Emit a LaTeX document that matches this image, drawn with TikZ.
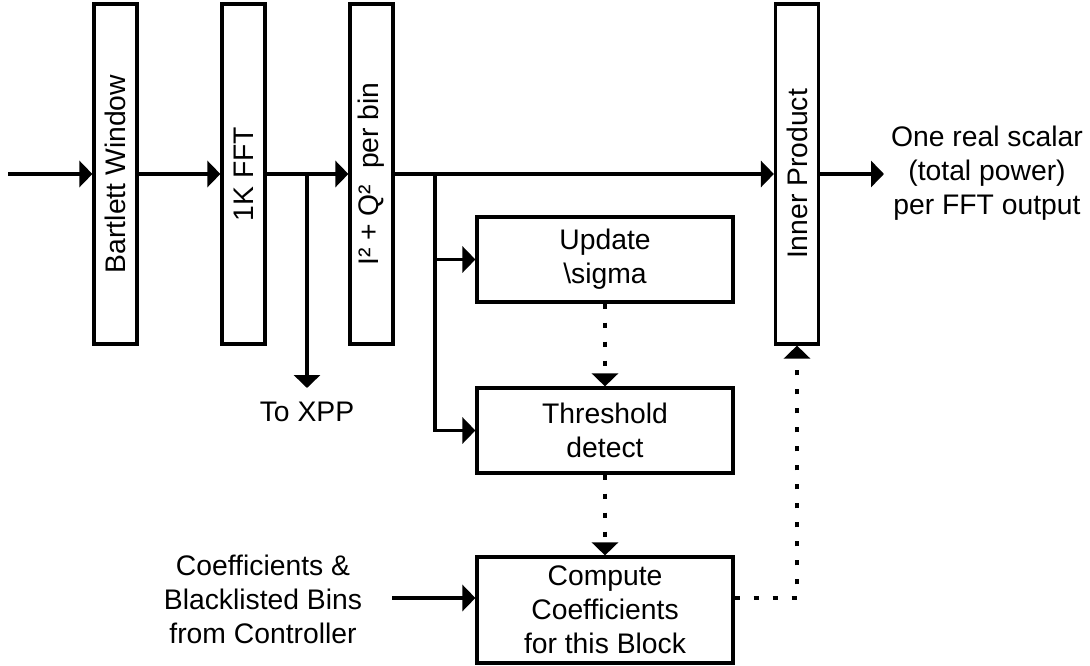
\documentclass[tikz,border=0pt]{standalone}
\usepackage{fontspec}
\setmainfont{Liberation Sans}
\usetikzlibrary{arrows.meta,calc}

\begin{document}
\begin{tikzpicture}[x=1pt,y=-1pt,
  every node/.style={font=\fontsize{28.3}{34}\selectfont},
  tallbox/.style={draw, line width=3.2pt, minimum width=43pt, minimum height=340pt, inner sep=0pt},
  blk/.style={draw, line width=3.2pt, minimum width=256pt, inner sep=0pt, align=center},
  txt/.style={align=center, inner sep=0pt},
  arr/.style={line width=3.2pt, -{Triangle[length=13pt,width=26pt]}},
  dotarr/.style={line width=3.2pt, dash pattern=on 5pt off 14pt, -{Triangle[length=13pt,width=26pt]}}]

\useasboundingbox (0,0) rectangle (1090,666);

% vertical processing stages
\node[tallbox] (bw) at (115.5,174) {};
\node[txt, rotate=90] (bwl) at (bw) {Bartlett Window};
\node[tallbox] (fft) at (243.5,174) {};
\node[txt, rotate=90] (fftl) at (fft) {1K FFT};
\node[tallbox] (pw) at (371.5,174) {};
\node[txt, rotate=90] (pwl) at (pw) {I² + Q²\ \ per bin};
\node[tallbox] (ip) at (797,174) {};
\node[txt, rotate=90] (ipl) at (ip) {Inner Product};

% side chain blocks
\node[blk, minimum height=85pt] (upd) at (605,259.5) {Update\\\textbackslash sigma};
\node[blk, minimum height=85pt] (thr) at (605,430.5) {Threshold\\detect};
\node[blk, minimum height=106pt] (cmp) at (605,610) {Compute\\Coefficients\\for this Block};

% free labels
\node[txt] (xpp) at (307,412) {To XPP};
\node[txt] (ctl) at (263,599) {Coefficients \&\\Blacklisted Bins\\from Controller};
\node[txt] (out) at (987,173) {One real scalar\\(total power)\\per FFT output};

% connector end points
\coordinate (in) at (8,174);
\coordinate (tap1) at (307,174);
\coordinate (xppend) at (307,388);
\coordinate (tap2) at (435,174);
\coordinate (cin) at (392,598);
\coordinate (outend) at (884,174);

% main signal path
\draw[arr] (in) -- (bw.west);
\draw[arr] (bw.east) -- (fft.west);
\draw[arr] (fft.east) -- (pw.west);
\draw[arr] (pw.east) -- (ip.west);
\draw[arr] (ip.east) -- (outend);
\draw[arr] (tap1) -- (xppend);

% side chain
\draw[arr] (tap2) |- (upd.west);
\draw[arr] (tap2) |- (thr.west);
\draw[arr] (cin) -- (cin -| cmp.west);
\draw[dotarr] (upd.south) -- (thr.north);
\draw[dotarr] (thr.south) -- (cmp.north);
\draw[dotarr] (cin -| cmp.east) -| (ip.south);
\end{tikzpicture}
\end{document}
